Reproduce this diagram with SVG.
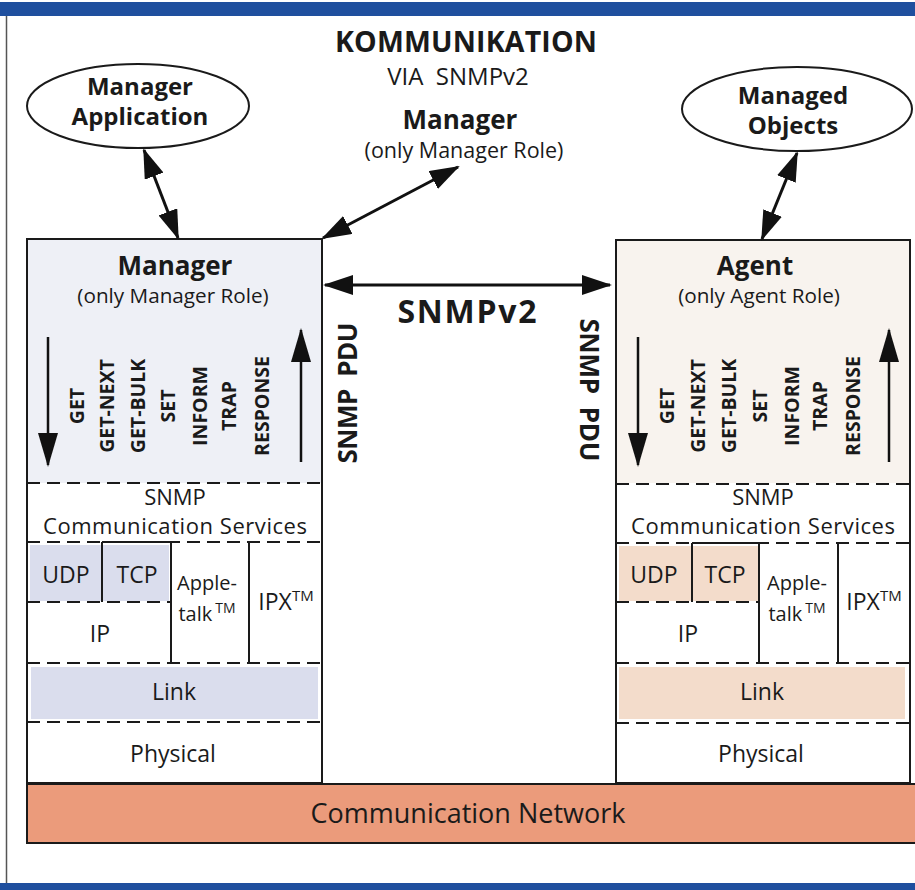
<svg xmlns="http://www.w3.org/2000/svg" width="915" height="890" viewBox="0 0 915 890">
  <defs>
    <marker id="head" viewBox="0 0 30 20" refX="28" refY="10" markerWidth="30" markerHeight="20" markerUnits="userSpaceOnUse" orient="auto-start-reverse">
      <path d="M0,0 L30,10 L0,20 z" fill="#111"/>
    </marker>
    <marker id="headTall" viewBox="0 0 34 20" refX="32" refY="10" markerWidth="34" markerHeight="20" markerUnits="userSpaceOnUse" orient="auto">
      <path d="M0,0 L34,10 L0,20 z" fill="#111"/>
    </marker>
  </defs>
  <style>
    .t { font-family: "Open Sans", "Noto Sans", "DejaVu Sans", sans-serif; fill: #1a1a1a; text-anchor: middle; }
    .b { font-weight: bold; }
    .layer { font-size: 23px; }
    .svc { font-size: 22px; }
    .apple { font-size: 20px; }
    .role { font-size: 20.7px; }
    .cmd { font-size: 19.5px; font-weight: bold; }
    .solid { stroke: #1a1a1a; stroke-width: 2; fill: none; }
    .dash { stroke: #1a1a1a; stroke-width: 2; stroke-dasharray: 13 7; fill: none; }
    .conn { stroke: #111; stroke-width: 3; fill: none; }
    .small { stroke: #111; stroke-width: 2.5; fill: none; }
    .sup { font-size: 14px; }
    .supx { font-size: 15px; }
  </style>

  <!-- page background and frame -->
  <rect x="0" y="0" width="915" height="890" fill="#ffffff"/>
  <rect x="0" y="2" width="915" height="14" fill="#1f4f9e"/>
  <rect x="0" y="883" width="915" height="7" fill="#1f4f9e"/>
  <line x1="6.5" y1="16" x2="6.5" y2="883" stroke="#555" stroke-width="1.5"/>

  <!-- heading -->
  <g id="heading">
    <text class="t b" x="466" y="52" font-size="28.5" textLength="262">KOMMUNIKATION</text>
    <text class="t" x="458" y="85" font-size="24" xml:space="preserve">VIA  SNMPv2</text>
    <text class="t b" x="460" y="129" font-size="26">Manager</text>
    <text class="t" x="464" y="158" font-size="21.5">(only Manager Role)</text>
  </g>

  <!-- Manager application ellipse -->
  <g id="manager-application">
    <ellipse cx="138" cy="106" rx="111" ry="42" fill="#fff" stroke="#1a1a1a" stroke-width="2"/>
    <text class="t b" x="140" y="95" font-size="24">Manager</text>
    <text class="t b" x="140" y="125" font-size="24">Application</text>
  </g>

  <!-- Managed objects ellipse -->
  <g id="managed-objects">
    <ellipse cx="797" cy="109" rx="115" ry="42" fill="#fff" stroke="#1a1a1a" stroke-width="2"/>
    <text class="t b" x="793" y="104" font-size="24">Managed</text>
    <text class="t b" x="793" y="134" font-size="24">Objects</text>
  </g>

  <!-- Manager stack -->
  <g id="manager-stack">
    <rect x="27" y="239" width="295" height="244" fill="#eef0f6"/>
    <rect x="27" y="483" width="295" height="300" fill="#ffffff"/>
    <rect x="30" y="545" width="72" height="56" fill="#dadded"/>
    <rect x="103" y="545" width="66" height="56" fill="#dadded"/>
    <rect x="31" y="667" width="287" height="52" fill="#dadded"/>
    <text class="t b" x="175" y="275" font-size="26">Manager</text>
    <text class="t role" x="173" y="303">(only Manager Role)</text>
    <line class="small" x1="48" y1="337" x2="48" y2="465" marker-end="url(#headTall)"/>
    <line class="small" x1="301" y1="462" x2="301" y2="330" marker-end="url(#headTall)"/>
    <g class="t cmd">
      <text transform="translate(84,406) rotate(-90)">GET</text>
      <text transform="translate(114,406) rotate(-90)">GET-NEXT</text>
      <text transform="translate(145,406) rotate(-90)">GET-BULK</text>
      <text transform="translate(175,406) rotate(-90)">SET</text>
      <text transform="translate(207,406) rotate(-90)">INFORM</text>
      <text transform="translate(236,406) rotate(-90)">TRAP</text>
      <text transform="translate(269,406) rotate(-90)">RESPONSE</text>
    </g>
    <line class="dash" x1="27" y1="483" x2="322" y2="483"/>
    <line class="dash" x1="27" y1="542" x2="322" y2="542"/>
    <line class="dash" x1="27" y1="602" x2="171" y2="602"/>
    <line class="dash" x1="27" y1="663" x2="322" y2="663"/>
    <line class="dash" x1="27" y1="722" x2="322" y2="722"/>
    <line class="solid" x1="102" y1="542" x2="102" y2="602"/>
    <line class="solid" x1="102" y1="542" x2="171" y2="542"/>
    <line class="solid" x1="171" y1="542" x2="171" y2="663"/>
    <line class="solid" x1="249" y1="542" x2="249" y2="663"/>
    <rect class="solid" x="27" y="239" width="295" height="544"/>
    <text class="t svc" x="175" y="505">SNMP</text>
    <text class="t svc" x="175" y="534" textLength="264">Communication Services</text>
    <text class="t layer" x="66" y="583">UDP</text>
    <text class="t layer" x="137" y="583">TCP</text>
    <text class="t layer" x="100" y="642">IP</text>
    <text class="t apple" x="207" y="590">Apple-</text>
    <text class="t apple" x="207" y="621">talk<tspan class="sup" dx="3" dy="-8">TM</tspan></text>
    <text class="t layer" x="286" y="610">IPX<tspan class="supx" dy="-9">TM</tspan></text>
    <text class="t layer" x="174" y="700">Link</text>
    <text class="t layer" x="173" y="762">Physical</text>
  </g>

  <!-- Agent stack -->
  <g id="agent-stack">
    <rect x="616" y="240" width="294" height="243" fill="#f8f3ee"/>
    <rect x="616" y="483" width="294" height="300" fill="#ffffff"/>
    <rect x="619" y="546" width="73" height="55" fill="#f3dccb"/>
    <rect x="693" y="546" width="65" height="55" fill="#f3dccb"/>
    <rect x="619" y="667" width="286" height="52" fill="#f3dccb"/>
    <text class="t b" x="755" y="275" font-size="26">Agent</text>
    <text class="t role" x="759" y="303">(only Agent Role)</text>
    <line class="small" x1="638" y1="337" x2="638" y2="465" marker-end="url(#headTall)"/>
    <line class="small" x1="889" y1="462" x2="889" y2="330" marker-end="url(#headTall)"/>
    <g class="t cmd">
      <text transform="translate(674,406) rotate(-90)">GET</text>
      <text transform="translate(705,406) rotate(-90)">GET-NEXT</text>
      <text transform="translate(736,406) rotate(-90)">GET-BULK</text>
      <text transform="translate(767,406) rotate(-90)">SET</text>
      <text transform="translate(799,406) rotate(-90)">INFORM</text>
      <text transform="translate(827,406) rotate(-90)">TRAP</text>
      <text transform="translate(860,406) rotate(-90)">RESPONSE</text>
    </g>
    <line class="dash" x1="616" y1="484" x2="910" y2="484"/>
    <line class="dash" x1="616" y1="543" x2="910" y2="543"/>
    <line class="dash" x1="616" y1="602" x2="759" y2="602"/>
    <line class="dash" x1="616" y1="663" x2="910" y2="663"/>
    <line class="dash" x1="616" y1="723" x2="910" y2="723"/>
    <line class="solid" x1="692" y1="543" x2="692" y2="602"/>
    <line class="solid" x1="692" y1="543" x2="759" y2="543"/>
    <line class="solid" x1="759" y1="543" x2="759" y2="663"/>
    <line class="solid" x1="838" y1="543" x2="838" y2="663"/>
    <rect class="solid" x="616" y="240" width="294" height="543"/>
    <text class="t svc" x="763" y="505">SNMP</text>
    <text class="t svc" x="763" y="534" textLength="264">Communication Services</text>
    <text class="t layer" x="654" y="583">UDP</text>
    <text class="t layer" x="725" y="583">TCP</text>
    <text class="t layer" x="688" y="642">IP</text>
    <text class="t apple" x="797" y="590">Apple-</text>
    <text class="t apple" x="797" y="621">talk<tspan class="sup" dx="3" dy="-8">TM</tspan></text>
    <text class="t layer" x="874" y="610">IPX<tspan class="supx" dy="-9">TM</tspan></text>
    <text class="t layer" x="762" y="700">Link</text>
    <text class="t layer" x="761" y="762">Physical</text>
  </g>

  <!-- Communication network bar -->
  <g id="communication-network">
    <rect x="27" y="784" width="890" height="59" fill="#eb9b7b" stroke="#1a1a1a" stroke-width="2"/>
    <text class="t" x="468" y="823" font-size="27">Communication Network</text>
  </g>

  <!-- protocol labels -->
  <g id="protocol-labels">
    <text class="t b" x="467" y="323" font-size="32" textLength="139">SNMPv2</text>
    <text class="t b" transform="translate(357,393) rotate(-90)" font-size="26" textLength="141" xml:space="preserve">SNMP  PDU</text>
    <text class="t b" transform="translate(580,390) rotate(90)" font-size="26" textLength="143" xml:space="preserve">SNMP  PDU</text>
  </g>

  <!-- connectors -->
  <g id="connectors">
    <line class="conn" x1="144" y1="150" x2="178" y2="238" marker-start="url(#head)" marker-end="url(#head)"/>
    <line class="conn" x1="797" y1="153" x2="762" y2="239" marker-start="url(#head)" marker-end="url(#head)"/>
    <line class="conn" x1="323" y1="238" x2="458" y2="167" marker-start="url(#head)" marker-end="url(#head)"/>
    <line class="conn" x1="325" y1="285" x2="610" y2="285" marker-start="url(#head)" marker-end="url(#head)"/>
  </g>
</svg>
